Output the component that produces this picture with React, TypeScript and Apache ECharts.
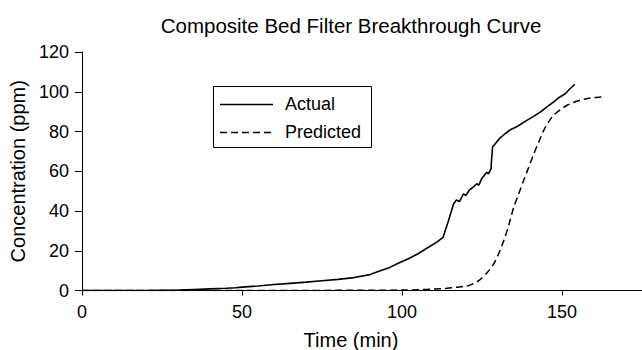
import React, { useEffect, useRef } from "react";
import * as echarts from "echarts";

const titleText = "Composite Bed Filter Breakthrough Curve";
const xName = "Time (min)";
const yName = "Concentration (ppm)";
const seriesNames = ["Actual", "Predicted"];

const actualT = [0, 10, 20, 30, 35, 40, 45, 48, 50, 55, 60, 65, 70, 75, 80, 85, 90, 93, 96, 99, 102, 105, 108, 111, 112.8, 114.5, 116.1, 117, 118, 119.2, 120, 121, 122, 123.4, 124, 125, 126.5, 127, 127.8, 128.0, 128.3, 129.2, 130.5, 132.3, 134, 136, 139, 141, 143.3, 145, 147.4, 149, 151.1, 152.5, 154];
const actualC = [0, 0, 0, 0.2, 0.5, 0.8, 1.1, 1.4, 1.7, 2.3, 3.0, 3.6, 4.2, 4.9, 5.6, 6.5, 8.0, 9.8, 11.5, 13.8, 16.0, 18.5, 21.5, 24.5, 26.7, 35, 43.5, 45.5, 44.8, 48.6, 47.8, 50.5, 51.7, 53.7, 53.0, 56.5, 59.5, 58.7, 61.2, 66, 72.2, 74, 76.5, 79, 81, 82.5, 85.6, 87.5, 89.9, 92, 94.9, 97, 99.1, 101.5, 103.7];

const predT = [0, 50, 100, 105, 110, 114, 117, 120.3, 122.5, 124.5, 126.5, 128.6, 130.2, 131.8, 133.4, 134.9, 136.5, 138, 139.6, 141.2, 142.8, 144.3, 145.8, 147.4, 149.5, 151.6, 153.7, 155.8, 158, 160, 162, 163.6];
const predC = [0, 0, 0.2, 0.4, 0.7, 1.1, 1.6, 2.3, 3.6, 5.6, 8.8, 13.2, 18.5, 25, 33, 41.8, 48.8, 55.3, 62, 68.8, 75, 80.6, 84.8, 88.2, 91, 93.2, 94.7, 95.8, 96.6, 97.1, 97.3, 97.4];

const xTicks = [0, 50, 100, 150];

const FONT = "'Liberation Sans', Arial, sans-serif";

export default function App() {
  const ref = useRef<HTMLDivElement>(null);
  useEffect(() => {
    if (!ref.current) return;
    const chart = echarts.init(ref.current, null, { renderer: "svg" });
    chart.setOption({
      animation: false,
      backgroundColor: "#fff",
      textStyle: { fontFamily: FONT, color: "#000" },
      title: {
        text: titleText,
        left: 346,
        top: 10,
        textAlign: "center",
        textStyle: { fontFamily: FONT, fontSize: 20.5, fontWeight: "normal", color: "#000" },
      },
      graphic: [
        {
          type: "rect",
          shape: { x: 213.5, y: 86.5, width: 158, height: 61 },
          style: { fill: "none", stroke: "#000", lineWidth: 1 },
          silent: true,
        },
        {
          type: "line",
          shape: { x1: 220, y1: 104.5, x2: 273, y2: 104.5 },
          style: { stroke: "#000", lineWidth: 1.5 },
          silent: true,
        },
        {
          type: "line",
          shape: { x1: 220, y1: 132.5, x2: 274, y2: 132.5 },
          style: { stroke: "#000", lineWidth: 1.5, lineDash: [7, 4] },
          silent: true,
        },
        {
          type: "text",
          x: 285,
          y: 104,
          style: { text: seriesNames[0], font: `18px ${FONT}`, fill: "#000", textVerticalAlign: "middle", verticalAlign: "middle" },
          silent: true,
        },
        {
          type: "text",
          x: 285,
          y: 132,
          style: { text: seriesNames[1], font: `18px ${FONT}`, fill: "#000", textVerticalAlign: "middle", verticalAlign: "middle" },
          silent: true,
        },
      ],
      grid: { left: 82, right: 0, top: 52, bottom: 59.5, containLabel: false, outerBoundsMode: "none" },
      xAxis: {
        type: "value",
        min: 0,
        max: 175,
        interval: 50,
        name: xName,
        nameLocation: "middle",
        nameGap: 39,
        nameTextStyle: { fontFamily: FONT, fontSize: 20, color: "#000", padding: [0, 22, 0, 0] },
        axisLine: { lineStyle: { color: "#000", width: 1 } },
        axisTick: { length: 5, lineStyle: { color: "#000" } },
        axisLabel: {
          fontFamily: FONT,
          fontSize: 18,
          color: "#000",
          margin: 12,
          formatter: (v: number) => (xTicks.includes(v) ? String(v) : ""),
        },
        splitLine: { show: false },
      },
      yAxis: {
        type: "value",
        min: 0,
        max: 120,
        interval: 20,
        name: yName,
        nameLocation: "middle",
        nameGap: 52,
        nameTextStyle: { fontFamily: FONT, fontSize: 20, color: "#000" },
        axisLine: { show: true, lineStyle: { color: "#000", width: 1 } },
        axisTick: { show: true, length: 7, lineStyle: { color: "#000" } },
        axisLabel: { fontFamily: FONT, fontSize: 18, color: "#000", margin: 13 },
        splitLine: { show: false },
      },
      series: [
        {
          name: seriesNames[0],
          type: "line",
          data: actualT.map((t, i) => [t, actualC[i]]),
          showSymbol: false,
          symbol: "none",
          lineStyle: { color: "#000", width: 1.6 },
          itemStyle: { color: "#000" },
          z: 3,
        },
        {
          name: seriesNames[1],
          type: "line",
          data: predT.map((t, i) => [t, predC[i]]),
          showSymbol: false,
          symbol: "none",
          smooth: 0.3,
          lineStyle: { color: "#000", width: 1.5, type: [7, 4] },
          itemStyle: { color: "#000" },
          z: 2,
        },
      ],
    });
    return () => chart.dispose();
  }, []);
  return <div ref={ref} style={{ width: 642, height: 350, position: "absolute", left: 0, top: 0 }} />;
}
